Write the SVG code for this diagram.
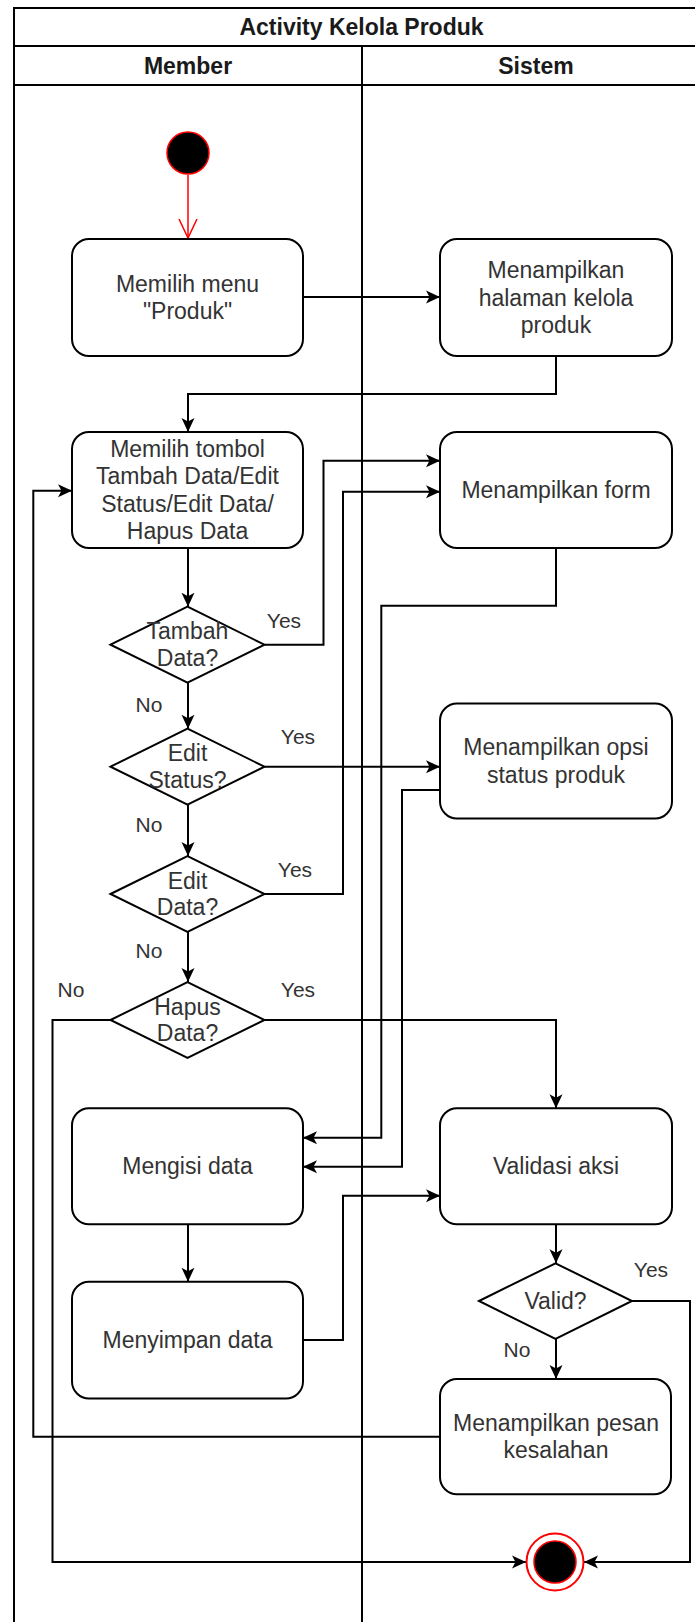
<svg xmlns="http://www.w3.org/2000/svg" width="695" height="1622" viewBox="0 0 695 1622">
  <style>
    .lane { fill: none; stroke: #000; stroke-width: 2; }
    .hdr { font-family: "Liberation Sans", Arial, sans-serif; font-size: 23px; font-weight: bold; fill: #1a1a1a; text-anchor: middle; }
    .act { fill: #fff; stroke: #000; stroke-width: 2; }
    .dec { fill: #fff; stroke: #000; stroke-width: 2; }
    .txt { font-family: "Liberation Sans", Arial, sans-serif; font-size: 23px; fill: #333; text-anchor: middle; }
    .lbl { font-family: "Liberation Sans", Arial, sans-serif; font-size: 21px; fill: #333; text-anchor: middle; }
    .edge { fill: none; stroke: #000; stroke-width: 2; marker-end: url(#arrow); }
  </style>
  <defs>
    <marker id="arrow" markerUnits="userSpaceOnUse" markerWidth="14" markerHeight="14" viewBox="0 0 14 14" refX="14" refY="7" orient="auto">
      <path d="M0,0.5 L14,7 L0,13.5 L3.5,7 Z" fill="#000"/>
    </marker>
    <marker id="openRed" markerUnits="userSpaceOnUse" markerWidth="20" markerHeight="20" viewBox="0 0 20 20" refX="19" refY="10" orient="auto">
      <path d="M0,1 L19,10 L0,19" fill="none" stroke="#ff0000" stroke-width="1.5"/>
    </marker>
  </defs>

  <rect width="695" height="1622" fill="#fff"/>

  <!-- swimlane pool -->
  <g id="pool">
    <rect class="lane" x="14" y="8" width="695" height="1630"/>
    <line class="lane" x1="14" y1="46" x2="709" y2="46"/>
    <line class="lane" x1="14" y1="85" x2="709" y2="85"/>
    <line class="lane" x1="362" y1="46" x2="362" y2="1640"/>
    <text class="hdr" x="361.5" y="35">Activity Kelola Produk</text>
    <text class="hdr" x="188" y="73.5">Member</text>
    <text class="hdr" x="536" y="73.5">Sistem</text>
  </g>

  <!-- connectors -->
  <g id="connectors">
    <line x1="188" y1="175" x2="188" y2="238" stroke="#ff0000" stroke-width="1.5" marker-end="url(#openRed)"/>
    <path class="edge" d="M303,297 L440,297"/>
    <path class="edge" d="M556,356 L556,394 L188,394 L188,432"/>
    <path class="edge" d="M188,548 L188,606.7"/>
    <path class="edge" d="M264.5,644.7 L323.5,644.7 L323.5,460.7 L440,460.7"/>
    <path class="edge" d="M188,682.7 L188,728.7"/>
    <path class="edge" d="M264.5,766.7 L440,766.7"/>
    <path class="edge" d="M188,804.7 L188,856"/>
    <path class="edge" d="M264.5,894 L343,894 L343,491.7 L440,491.7"/>
    <path class="edge" d="M188,932 L188,982"/>
    <path class="edge" d="M264.5,1020 L556,1020 L556,1108.3"/>
    <path class="edge" d="M110.5,1020 L52.5,1020 L52.5,1562 L526,1562"/>
    <path class="edge" d="M556,548 L556,605.7 L381.3,605.7 L381.3,1137.7 L303,1137.7"/>
    <path class="edge" d="M440,790 L402,790 L402,1166.7 L303,1166.7"/>
    <path class="edge" d="M188,1224.3 L188,1281.7"/>
    <path class="edge" d="M303,1340 L343,1340 L343,1195.7 L440,1195.7"/>
    <path class="edge" d="M556,1224.3 L556,1263.3"/>
    <path class="edge" d="M632,1301 L690,1301 L690,1562 L584,1562"/>
    <path class="edge" d="M556,1339 L556,1379"/>
    <path class="edge" d="M440,1436.7 L33.3,1436.7 L33.3,490.7 L72,490.7"/>

    <text class="lbl" x="284" y="628">Yes</text>
    <text class="lbl" x="149" y="712">No</text>
    <text class="lbl" x="298" y="744">Yes</text>
    <text class="lbl" x="149" y="832">No</text>
    <text class="lbl" x="295" y="877">Yes</text>
    <text class="lbl" x="149" y="958">No</text>
    <text class="lbl" x="71" y="997">No</text>
    <text class="lbl" x="298" y="997">Yes</text>
    <text class="lbl" x="651" y="1277">Yes</text>
    <text class="lbl" x="517" y="1356.5">No</text>
  </g>

  <!-- start -->
  <g id="start">
    <circle cx="188" cy="153" r="21" fill="#000" stroke="#ff0000" stroke-width="1.5"/>
  </g>

  <g id="pilihMenu">
    <rect class="act" x="72" y="239" width="231" height="117" rx="17"/>
    <text class="txt" x="187.5" y="291.7">Memilih menu</text>
    <text class="txt" x="187.5" y="319.3">"Produk"</text>
  </g>

  <g id="halamanKelola">
    <rect class="act" x="440" y="239" width="232" height="117" rx="17"/>
    <text class="txt" x="556" y="278">Menampilkan</text>
    <text class="txt" x="556" y="305.5">halaman kelola</text>
    <text class="txt" x="556" y="333">produk</text>
  </g>

  <g id="pilihTombol">
    <rect class="act" x="72" y="432" width="231" height="116" rx="17"/>
    <text class="txt" x="187.5" y="456.6">Memilih tombol</text>
    <text class="txt" x="187.5" y="484.2">Tambah Data/Edit</text>
    <text class="txt" x="187.5" y="511.8">Status/Edit Data/</text>
    <text class="txt" x="187.5" y="539.4">Hapus Data</text>
  </g>

  <g id="tampilForm">
    <rect class="act" x="440" y="432" width="232" height="116" rx="17"/>
    <text class="txt" x="556" y="498">Menampilkan form</text>
  </g>

  <g id="cekTambah">
    <polygon class="dec" points="110.5,644.7 187.5,606.7 264.5,644.7 187.5,682.7"/>
    <text class="txt" x="187.5" y="639.4">Tambah</text>
    <text class="txt" x="187.5" y="666">Data?</text>
  </g>

  <g id="cekStatus">
    <polygon class="dec" points="110.5,766.7 187.5,728.7 264.5,766.7 187.5,804.7"/>
    <text class="txt" x="187.5" y="761.4">Edit</text>
    <text class="txt" x="187.5" y="788">Status?</text>
  </g>

  <g id="opsiStatus">
    <rect class="act" x="440" y="703.5" width="232" height="115" rx="17"/>
    <text class="txt" x="556" y="755.2">Menampilkan opsi</text>
    <text class="txt" x="556" y="782.8">status produk</text>
  </g>

  <g id="cekEdit">
    <polygon class="dec" points="110.5,894 187.5,856 264.5,894 187.5,932"/>
    <text class="txt" x="187.5" y="888.7">Edit</text>
    <text class="txt" x="187.5" y="915.3">Data?</text>
  </g>

  <g id="cekHapus">
    <polygon class="dec" points="110.5,1020 187.5,982 264.5,1020 187.5,1058"/>
    <text class="txt" x="187.5" y="1014.7">Hapus</text>
    <text class="txt" x="187.5" y="1041.3">Data?</text>
  </g>

  <g id="isiData">
    <rect class="act" x="72" y="1108.3" width="231" height="116" rx="17"/>
    <text class="txt" x="187.5" y="1174.3">Mengisi data</text>
  </g>

  <g id="validasi">
    <rect class="act" x="440" y="1108.3" width="232" height="116" rx="17"/>
    <text class="txt" x="556" y="1174.3">Validasi aksi</text>
  </g>

  <g id="simpanData">
    <rect class="act" x="72" y="1281.7" width="231" height="116.7" rx="17"/>
    <text class="txt" x="187.5" y="1348">Menyimpan data</text>
  </g>

  <g id="cekValid">
    <polygon class="dec" points="479,1301 555.5,1263.3 632,1301 555.5,1339"/>
    <text class="txt" x="555.5" y="1309">Valid?</text>
  </g>

  <g id="pesanSalah">
    <rect class="act" x="440" y="1379" width="231" height="115.3" rx="17"/>
    <text class="txt" x="556" y="1430.7">Menampilkan pesan</text>
    <text class="txt" x="556" y="1458.3">kesalahan</text>
  </g>

  <!-- end -->
  <g id="end">
    <circle cx="555" cy="1562" r="28.5" fill="#fff" stroke="#ff0000" stroke-width="2"/>
    <circle cx="555" cy="1562" r="21" fill="#000" stroke="#ff0000" stroke-width="1.5"/>
  </g>
</svg>
